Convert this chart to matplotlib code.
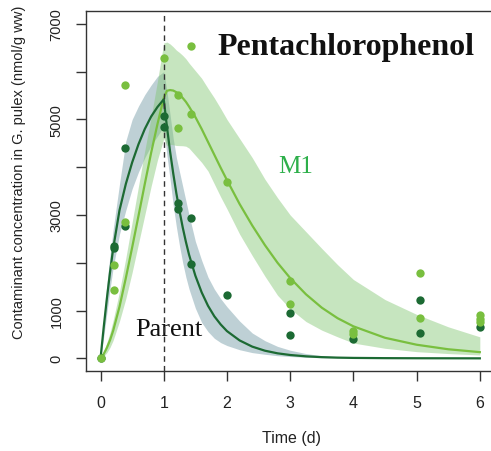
import matplotlib
matplotlib.use("Agg")
import matplotlib.pyplot as plt

plt.rcParams['font.family'] = ['Liberation Sans', 'DejaVu Sans']

# ---------------- data ----------------
# observed points (time in days, concentration nmol/g ww)
parent_t = [0, 0.21, 0.21, 0.38, 0.38, 1.0, 1.0, 1.23, 1.23, 1.43, 1.43, 2.0, 3.0, 3.0, 4.0, 5.06, 5.06, 6.0]
parent_c = [0, 2360, 2310, 4410, 2770, 5070, 4840, 3260, 3120, 2940, 1980, 1320, 940, 480, 410, 1230, 530, 650]

m1_t = [0, 0.21, 0.21, 0.38, 0.38, 1.0, 1.23, 1.23, 1.43, 1.43, 2.0, 3.0, 3.0, 4.0, 4.0, 5.06, 5.06, 6.0, 6.0, 6.0]
m1_c = [0, 1960, 1440, 5720, 2850, 6280, 5510, 4820, 6530, 5120, 3700, 1610, 1140, 580, 510, 1790, 840, 900, 830, 760]

# model fits and credible bands
fit_t = [0, 0.05, 0.1, 0.15, 0.2, 0.3, 0.4, 0.5, 0.6, 0.7, 0.8, 0.9, 1.0, 1.05, 1.1, 1.15,
         1.2, 1.25, 1.3, 1.35, 1.4, 1.5, 1.6, 1.7, 1.8, 1.9, 2.0, 2.2, 2.4, 2.6, 2.8, 3.0, 3.25, 3.5,
         3.75, 4.0, 4.5, 5.0, 5.5, 6.0]

parent_fit = [0, 650, 1250, 1800, 2300, 3100, 3650, 4100, 4480, 4800, 5060, 5260, 5420, 4850, 4330, 3870,
              3450, 3080, 2740, 2440, 2170, 1730, 1380, 1100, 880, 710, 570, 375, 245, 160, 105, 70, 42, 25,
              15, 9, 4, 2, 1, 0]
parent_lo = [0, 450, 950, 1450, 1900, 2600, 3100, 3550, 3900, 4200, 4450, 4650, 4850, 4250, 3750, 3200,
             2750, 2350, 2000, 1700, 1450, 1050, 750, 560, 420, 330, 268, 180, 120, 85, 55, 38, 22, 12,
             8, 5, 2, 1, 0, 0]
parent_hi = [0, 850, 1550, 2150, 2700, 3650, 4550, 5000, 5280, 5520, 5720, 5900, 6000, 5600, 5100, 4600,
             4200, 3900, 3600, 3300, 3000, 2450, 2050, 1700, 1450, 1250, 1080, 780, 530, 370, 250, 170, 100, 55,
             35, 20, 8, 3, 1, 0]

m1_fit = [0, 90, 220, 380, 580, 1080, 1680, 2320, 2980, 3650, 4300, 4900, 5450, 5600, 5615, 5605,
          5570, 5520, 5450, 5370, 5270, 5050, 4800, 4530, 4260, 3990, 3730, 3230, 2780, 2370, 2000, 1680, 1340, 1060,
          840, 670, 430, 285, 190, 130]
m1_lo = [0, 40, 120, 230, 380, 780, 1250, 1800, 2400, 3000, 3600, 4150, 4600, 4450, 4480, 4470,
         4455, 4452, 4450, 4440, 4400, 4250, 4100, 3920, 3650, 3380, 3128, 2600, 2150, 1720, 1320, 1036, 770, 590,
         450, 320, 210, 140, 100, 70]
m1_hi = [0, 150, 330, 540, 800, 1400, 2100, 2850, 3600, 4350, 5050, 5800, 6600, 6620, 6580, 6520,
         6450, 6400, 6340, 6270, 6180, 6020, 5860, 5650, 5450, 5230, 5000, 4600, 4200, 3750, 3360, 3000, 2650, 2300,
         1960, 1650, 1230, 920, 660, 450]

dose_end = 1.0
x_ticks = [0, 1, 2, 3, 4, 5, 6]
y_ticks = [0, 1000, 2000, 3000, 4000, 5000, 6000, 7000]
y_tick_labels = ['0', '1000', '', '3000', '', '5000', '', '7000']

# ---------------- style ----------------
dark = '#1c6a33'
light = '#79bf3f'
band_parent = '#8fafb8'
band_m1 = '#82c673'
axis_col = '#333333'

W, H = 491, 452
fig = plt.figure(figsize=(W / 100, H / 100), dpi=100)
ax = fig.add_axes([86 / W, 80 / H, 409 / W, 360 / H])

ax.fill_between(fit_t, parent_lo, parent_hi, color=band_parent, alpha=0.58, lw=0, zorder=1)
ax.fill_between(fit_t, m1_lo, m1_hi, color=band_m1, alpha=0.45, lw=0, zorder=2)
ax.plot(fit_t, m1_fit, color=light, lw=1.6, zorder=3)
ax.plot(fit_t, parent_fit, color=dark, lw=1.6, zorder=4)
ax.axvline(dose_end, color='#333333', lw=1.0, ls=(0, (4, 3)), zorder=5)
ax.plot(parent_t, parent_c, 'o', color=dark, ms=6, mew=0, zorder=6)
ax.plot(m1_t, m1_c, 'o', color=light, ms=6, mew=0, zorder=7)

ax.set_xlim(-0.23, 6.24)
ax.set_ylim(-265, 7270)
ax.set_xticks(x_ticks)
ax.set_xticklabels([str(v) for v in x_ticks])
ax.set_yticks(y_ticks)
ax.set_yticklabels(y_tick_labels)

for s in ax.spines.values():
    s.set_color(axis_col)
    s.set_linewidth(1.0)
ax.tick_params(axis='both', direction='out', length=7.2, width=1.0, color=axis_col,
               labelcolor='#222222')
ax.tick_params(axis='x', labelsize=11.5, pad=10)
ax.tick_params(axis='y', labelsize=10.5, pad=9, labelrotation=90)
for lbl in ax.get_yticklabels():
    lbl.set_va('center')

ax.text(3.88, 6517, 'Pentachlorophenol', fontsize=23, fontweight='bold',
        family=['Liberation Serif', 'DejaVu Serif'], ha='center', va='center', color='#111111')
ax.text(3.08, 4027, 'M1', fontsize=18, family=['Liberation Serif', 'DejaVu Serif'],
        ha='center', va='center', color='#2daf4a')
ax.text(1.08, 617, 'Parent', fontsize=19, family=['Liberation Serif', 'DejaVu Serif'],
        ha='center', va='center', color='#111111')

fig.text(19 / W, 1 - 172 / H, 'Contaminant concentration in G. pulex (nmol/g ww)',
         rotation=90, ha='center', va='center', fontsize=10.5, color='#222222')
fig.text(291 / W, 1 - 439 / H, 'Time (d)', ha='center', va='center', fontsize=11.5, color='#222222')

fig.savefig('out.png', dpi=100)
